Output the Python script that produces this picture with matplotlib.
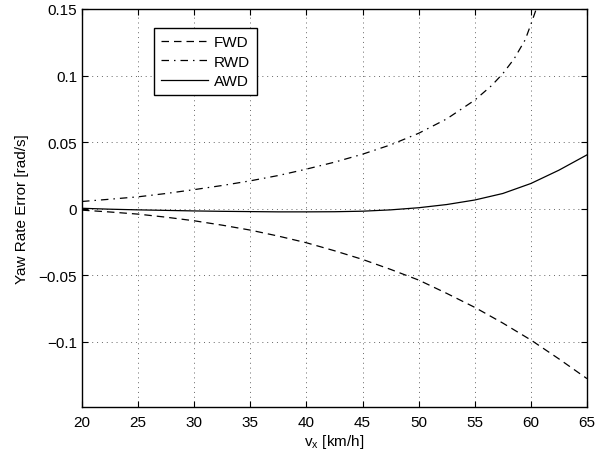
import numpy as np
import matplotlib
matplotlib.use('Agg')
import matplotlib.pyplot as plt

plt.rcParams['font.family'] = ['Liberation Sans', 'DejaVu Sans']

# longitudinal speed [km/h]
vx = [20, 22.5, 25, 27.5, 30, 32.5, 35, 37.5, 40, 42.5, 45, 47.5, 50, 52.5, 55, 57.5, 60, 62.5, 65]

# yaw rate error for each drivetrain [rad/s]
fwd = [-0.001, -0.0024, -0.004, -0.0063, -0.009, -0.0123, -0.016, -0.0205, -0.0255, -0.0315,
       -0.038, -0.0455, -0.0535, -0.0635, -0.074, -0.0858, -0.0985, -0.1127, -0.1275]
awd = [0.0004, -0.0003, -0.0008, -0.0012, -0.0016, -0.0019, -0.0021, -0.0023, -0.0023, -0.0022,
       -0.0018, -0.0008, 0.0008, 0.0032, 0.0066, 0.0115, 0.019, 0.029, 0.0405]

# rear drive leaves the plotted range just past 60 km/h
rwd_vx = [20, 22.5, 25, 27.5, 30, 32.5, 35, 37.5, 40, 42.5, 45, 47.5, 50, 52.5, 55, 56.5, 57.5,
          58.5, 59.5, 60, 60.5, 61]
rwd = [0.0055, 0.0072, 0.009, 0.0115, 0.0144, 0.0175, 0.021, 0.025, 0.0298, 0.035, 0.041,
       0.048, 0.0567, 0.0675, 0.0816, 0.0925, 0.1015, 0.1125, 0.127, 0.1385, 0.1505, 0.164]

yticks = [-0.1, -0.05, 0, 0.05, 0.1, 0.15]
ytick_labels = ['\u22120.1', '\u22120.05', '0', '0.05', '0.1', '0.15']

fs = 11

fig = plt.figure(figsize=(6.11, 4.56), dpi=100)
ax = fig.add_axes([82/611, 48/456, 505/611, 398/456])

ax.plot(vx, fwd, 'k--', lw=0.9, dashes=(6, 4), label='FWD')
ax.plot(rwd_vx, rwd, 'k-.', lw=0.9, dashes=(6, 4, 1.2, 4), label='RWD')
ax.plot(vx, awd, 'k-', lw=0.9, label='AWD')

ax.set_xlim(20, 65)
ax.set_ylim(-0.1488, 0.15)
ax.set_xticks(np.arange(20, 66, 5))
ax.set_yticks(yticks)
ax.set_yticklabels(ytick_labels)

ax.grid(True, linestyle=(0, (1, 4)), color='0.4', lw=0.7)
ax.tick_params(direction='in', top=True, right=True, length=4, width=0.8, labelsize=fs, pad=3.5)
ax.tick_params(axis='x', pad=6)
for side in ['top', 'bottom', 'left', 'right']:
    ax.spines[side].set_linewidth(1.0)

ax.set_xlabel(r'v$_{\mathregular{x}}$ [km/h]', fontsize=fs, labelpad=2)
ax.set_ylabel('Yaw Rate Error [rad/s]', fontsize=fs, labelpad=7)

leg = ax.legend(loc='upper left', bbox_to_anchor=(72/505, 1 - 19/398), fontsize=fs,
                fancybox=False, edgecolor='k', framealpha=1, handlelength=3.1,
                borderpad=0.45, labelspacing=0.38, handletextpad=0.35, borderaxespad=0)
leg.get_frame().set_linewidth(1.0)

fig.savefig('out.png', dpi=100)
